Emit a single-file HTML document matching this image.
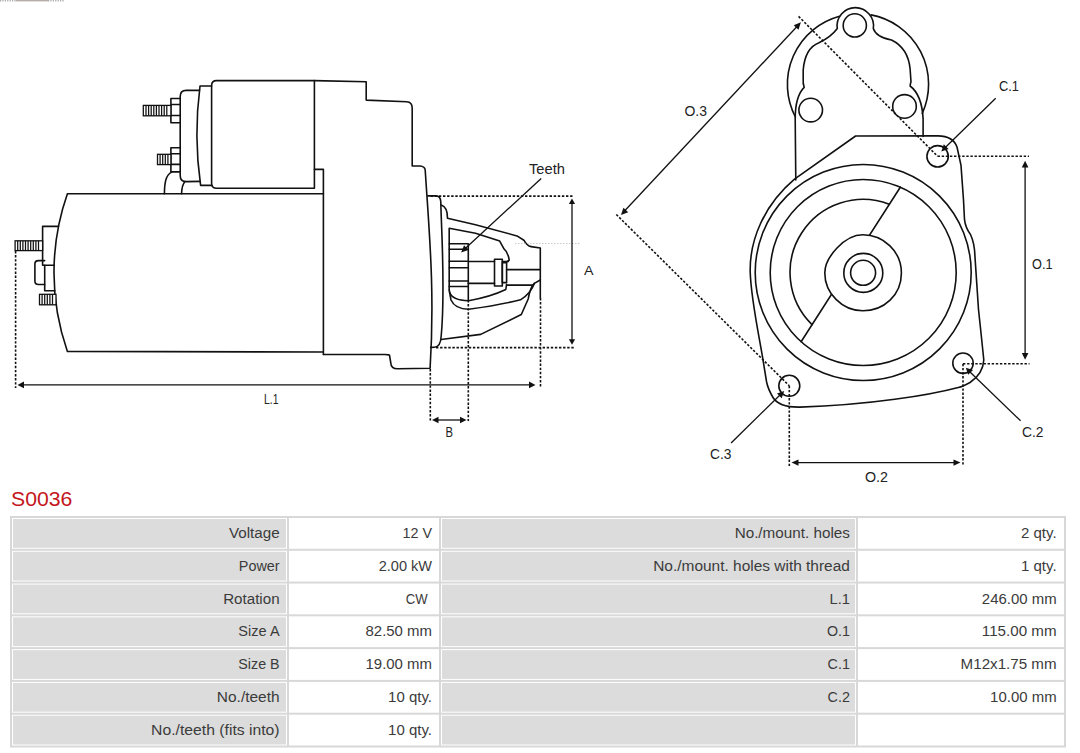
<!DOCTYPE html>
<html><head><meta charset="utf-8"><style>
html,body{margin:0;padding:0;background:#fff;width:1080px;height:753px;overflow:hidden}
svg{display:block}
</style></head><body>
<svg width="1080" height="753" viewBox="0 0 1080 753">
<rect width="1080" height="753" fill="#fff"/>
<path d="M0,0.7 L16,0.7 M48,0.7 L64,0.7" stroke="#aaa" stroke-width="1.4" stroke-dasharray="1.2,1.2"/><path d="M16,0.7 L48,0.7" stroke="#b5aea6" stroke-width="1.4"/>
<g fill="none" stroke="#111" stroke-width="1.6" stroke-linejoin="round" stroke-linecap="round">
  <!-- motor body -->
  <path d="M67.4,193.8 L323.4,193.8 L323.4,354.5 M323.4,352 L67.4,351.4 A238,238 0 0 1 67.4,193.8"/>
  <!-- solenoid main body -->
  <path d="M314.4,80.6 L216.6,80.6 Q211.6,80.6 211.6,85.6 L211.6,183.3 Q211.6,188.3 216.6,188.3 L314.4,188.3 Z"/>
  <!-- middle band -->
  <path d="M211.6,86 L200,86 Q193.5,136 200.6,185.4 L211.6,185.4"/>
  <!-- end cap -->
  <path d="M199.5,90.4 L186.2,90.4 Q180.2,90.4 180.2,96.4 L180.2,175.5 Q180.2,181.6 186.2,181.6 L200.3,181.4"/>
  <!-- upper nut -->
  <path d="M180.2,98.5 L170.9,98.5 L170.9,122.7 L180.2,122.7 M170.9,104.5 L180.2,104.5 M170.9,115.5 L180.2,115.5"/>
  <!-- lower nut -->
  <path d="M180.2,147.7 L170.9,147.7 L170.9,171.9 L180.2,171.9 M170.9,153.8 L180.2,153.8 M170.9,164.4 L180.2,164.4"/>
  <!-- arcs below solenoid -->
  <path d="M164.4,193.8 C164.5,182 166,175 171.8,171.9"/>
  <path d="M181.6,193.8 C181.7,188 182.5,184.5 185,181.6"/>
  <!-- step -->
  <path d="M314.4,169.4 L323.4,169.4 L323.4,193.8"/>
  <!-- housing -->
  <path d="M314.4,80.6 L366.2,81.7 L366.2,100.1 L406.7,101.7 Q412.2,102 412.2,108 L412.2,165.9 L420,166 Q424.8,166.5 425.2,170 C429,230 435,290 430.1,368.3 L398,368.8 Q391,369 390.8,363 L389.5,355.2 Q389,354.5 385,354.5 L323.4,354.5"/>
  <!-- flange -->
  <path d="M427.8,195.9 L435.8,195.9 Q440.6,196 440.8,202 C441.5,235 445.5,290 441.2,336 Q440.6,347 434.5,347.2 L430.7,347.4"/>
  <!-- nose outer top -->
  <path d="M441.3,205 C446,206.5 447.5,212 447.5,218.2 L475.5,224.7 L517,235.9 L523.9,240.2 Q527,246 531,246.6 L540.3,248 L540.3,298"/>
  <!-- nose outer bottom -->
  <path d="M540.3,280 L534.3,283.4 Q530,288 528.2,299 L521.3,314.5 L480.7,334.4 L441,339.5"/>
  <!-- inner lower contour 2 -->
  <path d="M534.3,283.4 Q531,293 520.5,299.8 Q500,305 468.6,309.3 Q455,309 451,300 L449.2,290"/>
  <!-- inner top contour -->
  <path d="M449.2,290 L449.2,228.3 L475.5,233.3 L499.7,241.1 L504,248.9 Q508,252 509.2,260.1 L506.6,262"/>
  <!-- inner lower contour 1 -->
  <path d="M449.5,292 Q452,300.5 468.6,300.7 Q490,297 505.8,289.5 L506.6,284.3"/>
  <!-- teeth -->
  <path d="M449.2,243.7 L468.3,243.7 M449.2,249.2 L468.3,249.2 M449.2,261.3 L468.3,261.3 M449.2,267.8 L468.3,267.8 M449.2,281 L468.3,281 M449.2,286.5 L468.3,286.5 M468.3,243.7 L468.3,300"/>
  <!-- shaft -->
  <path d="M468.3,261.5 L494.5,261.5 M502.3,261.5 L508.4,261.5 M468.3,283.4 L494.5,283.4 M506.6,285.1 L532.6,285.1 M506.6,269.6 L540.3,269.6"/>
  <rect x="494.5" y="259.2" width="7.8" height="26.8"/>
  <rect x="502.3" y="262.7" width="4.3" height="19.9"/>
  <!-- left terminal -->
  <path d="M58.5,226.4 L42.6,226.4 L42.6,265.2 L54.3,265.2"/>
  <path d="M44.7,265.2 L44.7,290.8 L54.8,290.8"/>
  <path d="M44.7,260.6 L38.5,260.6 Q34.9,260.6 34.9,264 L34.9,281 Q34.9,284.5 38.5,284.5 L44.7,284.5"/>
</g>
<!-- threads -->
<g fill="#fff" stroke="#111" stroke-width="1.3">
  <rect x="143.3" y="105.4" width="27.6" height="10.4"/>
  <rect x="157.5" y="154.3" width="13.4" height="10.3"/>
  <rect x="15.1" y="240.8" width="27.5" height="9.8"/>
  <rect x="39.5" y="294.3" width="16.5" height="10.5"/>
</g>
<g stroke="#111" stroke-width="1.25">
  <path d="M146,105.4V115.8M148.6,105.4V115.8M151.2,105.4V115.8M153.8,105.4V115.8M156.4,105.4V115.8M159,105.4V115.8M161.6,105.4V115.8M164.2,105.4V115.8M166.8,105.4V115.8"/>
  <path d="M160.1,154.3V164.6M162.7,154.3V164.6M165.3,154.3V164.6M167.9,154.3V164.6"/>
  <path d="M17.7,240.8V250.6M20.3,240.8V250.6M22.9,240.8V250.6M25.5,240.8V250.6M28.1,240.8V250.6M30.7,240.8V250.6M33.3,240.8V250.6M35.9,240.8V250.6M38.5,240.8V250.6"/>
  <path d="M42.1,294.3V304.8M44.7,294.3V304.8M47.3,294.3V304.8M49.9,294.3V304.8M52.5,294.3V304.8"/>
</g>
<!-- dimension lines -->
<g fill="none" stroke="#111" stroke-width="1.6" stroke-dasharray="2.4,1.7">
  <path d="M15.6,251 L15.6,388"/>
  <path d="M430.7,196.1 L573.5,196.1"/>
  <path d="M436,347.6 L575,347.6"/>
  <path d="M430.3,369 L430.3,421"/>
  <path d="M468.3,300 L468.3,421"/>
  <path d="M540.5,298 L540.5,388"/>
</g>
<path d="M515,243.5 L580,243.5" stroke="#bbb" stroke-width="0.8" stroke-dasharray="1.5,1.5"/>
<g fill="none" stroke="#111" stroke-width="1.3">
  <path d="M22,384.9 L530,384.9"/>
  <path d="M572,203 L572,340"/>
  <path d="M436,420 L462,420"/>
  <path d="M541.2,178.4 L465,248.8"/>
</g>
<g fill="#111" stroke="none">
  <path d="M17.5,384.9 L24,381.6 L24,388.2 Z"/>
  <path d="M535.5,384.9 L529,381.6 L529,388.2 Z"/>
  <path d="M572,198.5 L568.9,204 L575.1,204 Z"/>
  <path d="M572,344.8 L568.9,339.2 L575.1,339.2 Z"/>
  <path d="M432,420 L438.5,416.8 L438.5,423.2 Z"/>
  <path d="M466.5,420 L460,416.8 L460,423.2 Z"/>
  <path d="M461.1,252.4 L464.07,245.3 L468.4,250 Z"/>
</g>

<g fill="none" stroke="#111" stroke-width="1.6" stroke-linejoin="round" stroke-linecap="round">
  <!-- outer motor arc -->
  <path d="M795.4,117 A70.6,70.6 0 0 1 839.5,16.2 M871.1,14.9 A70.6,70.6 0 0 1 922.3,113.4"/>
  <!-- bracket plate outline -->
  <path d="M795.8,180 L795.2,118.9 Q795.2,96 804.2,87.3 Q802.8,84 803.2,79 L803.2,70 Q805,48 819,42.7 Q831,37 837.3,28.5 A18.2,18.2 0 1 1 873.3,28.5 Q876,37 891.5,40 Q908,48 910.1,68.8 L911,81.8 Q910,85 910.1,86 Q922,95 923.1,118.9 L923.1,136.5"/>
  <circle cx="854.8" cy="25.4" r="11.6"/>
  <circle cx="810.7" cy="110.1" r="11.8"/>
  <circle cx="904.5" cy="106.4" r="11.8"/>
  <!-- flange -->
  <path d="M794.5,179.2 L855.6,136 L938,135.9 Q953,136 957,147 L961,165.4 L963.5,200 L964.5,219.7 Q965.5,228 970.5,234.5 Q974.5,243 974.9,255.6 L978.5,309.5 L980.7,330 L983.8,360 Q983,374 970,382.5 Q963,386.5 958.3,387.5 C930,395 870,405 800,407.1 Q779,407.5 773,397.5 Q768,389 766.6,382 L763.4,362.3 C760,340 751,300 750.2,272 C749.5,240 764,205 794.5,179.2"/>
  <circle cx="863.2" cy="272.5" r="108"/>
  <circle cx="863.2" cy="272.5" r="93"/>
  <path d="M889.3,204.3 A73,73 0 0 0 812,324.6"/>
  <path d="M900.3,187.2 L801.1,341.7"/>
  <path fill="#fff" d="M862.9,234.8 C883,234.8 901.4,251 901.4,272.9 C901.4,295 884,310.8 862.9,310.8 C842,310.8 824.8,293 824.8,272.9 C824.8,258 844,234.8 862.9,234.8 Z"/>
  <circle cx="863.3" cy="272.9" r="19.5"/>
  <circle cx="863.1" cy="272.8" r="12.5"/>
  <circle cx="937.6" cy="156.3" r="10.7"/>
  <circle cx="963" cy="363.2" r="10.2"/>
  <circle cx="789.3" cy="385.8" r="10.5"/>
</g>
<g fill="none" stroke="#111" stroke-width="1.6" stroke-dasharray="2.4,1.7">
  <path d="M798.6,16.4 L937.6,156.3"/>
  <path d="M616.3,214.5 L789.3,385.8"/>
  <path d="M937.6,156.3 L1029,156.3"/>
  <path d="M963,363.8 L1029.5,363.8"/>
  <path d="M789.3,385.8 L789.3,466"/>
  <path d="M963,363.8 L963,466"/>
</g>
<g fill="none" stroke="#111" stroke-width="1.3">
  <path d="M625,210.5 L797,26.5"/>
  <path d="M1025.1,165 L1025.1,355"/>
  <path d="M796,462.6 L956,462.6"/>
  <path d="M995.7,98.3 L945,147.7"/>
  <path d="M1020.6,420.8 L969.5,371.5"/>
  <path d="M731.1,443 L780.5,394.5"/>
</g>
<g fill="#111" stroke="none">
  <path d="M621,215 L623.4,207.65 L628.2,212.15 Z"/>
  <path d="M800.9,22.3 L798.5,29.65 L793.7,25.15 Z"/>
  <path d="M1025.1,160.8 L1021.8,167.5 L1028.4,167.5 Z"/>
  <path d="M1025.1,359.8 L1021.8,353 L1028.4,353 Z"/>
  <path d="M791.5,462.6 L798.5,459.4 L798.5,465.8 Z"/>
  <path d="M960.5,462.6 L953.5,459.4 L953.5,465.8 Z"/>
  <path d="M941.3,151.5 L943.8,144.3 L948.6,149 Z"/>
  <path d="M965.8,367.7 L973,370 L968.2,374.8 Z"/>
  <path d="M784.2,391 L781.7,398.3 L777,393.6 Z"/>
</g>

<g font-family="Liberation Sans, sans-serif" fill="#222"><text x="529.0" y="174.0" font-size="14.39" textLength="36.0" lengthAdjust="spacingAndGlyphs">Teeth</text><text x="584.0" y="275.0" font-size="13.69" textLength="9.5" lengthAdjust="spacingAndGlyphs">A</text><text x="264.0" y="403.5" font-size="14.11" textLength="14.5" lengthAdjust="spacingAndGlyphs">L.1</text><text x="445.5" y="437.0" font-size="13.83" textLength="7.5" lengthAdjust="spacingAndGlyphs">B</text><text x="684.5" y="116.0" font-size="14.8" textLength="22.5" lengthAdjust="spacingAndGlyphs">O.3</text><text x="999.0" y="91.0" font-size="14.94" textLength="20.0" lengthAdjust="spacingAndGlyphs">C.1</text><text x="1032.0" y="269.0" font-size="14.8" textLength="20.5" lengthAdjust="spacingAndGlyphs">O.1</text><text x="1022.0" y="436.5" font-size="14.94" textLength="21.5" lengthAdjust="spacingAndGlyphs">C.2</text><text x="710.0" y="459.0" font-size="14.8" textLength="21.5" lengthAdjust="spacingAndGlyphs">C.3</text><text x="865.0" y="481.5" font-size="15.08" textLength="23.0" lengthAdjust="spacingAndGlyphs">O.2</text></g>
<text x="11" y="505.8" font-family="Liberation Sans, sans-serif" font-size="20" fill="#c4161c" textLength="61.31" lengthAdjust="spacingAndGlyphs">S0036</text>
<rect x="10" y="516" width="1056" height="231.5" fill="#d8d8d8"/><rect x="12" y="518.00" width="275" height="30.78" fill="#fff"/><rect x="13" y="519.00" width="273" height="28.78" fill="#dcdcdc"/><rect x="289" y="518.00" width="150" height="30.78" fill="#fff"/><rect x="441" y="518.00" width="415" height="30.78" fill="#fff"/><rect x="442" y="519.00" width="413" height="28.78" fill="#dcdcdc"/><rect x="858" y="518.00" width="206" height="30.78" fill="#fff"/><rect x="12" y="550.78" width="275" height="30.78" fill="#fff"/><rect x="13" y="551.78" width="273" height="28.78" fill="#dcdcdc"/><rect x="289" y="550.78" width="150" height="30.78" fill="#fff"/><rect x="441" y="550.78" width="415" height="30.78" fill="#fff"/><rect x="442" y="551.78" width="413" height="28.78" fill="#dcdcdc"/><rect x="858" y="550.78" width="206" height="30.78" fill="#fff"/><rect x="12" y="583.56" width="275" height="30.78" fill="#fff"/><rect x="13" y="584.56" width="273" height="28.78" fill="#dcdcdc"/><rect x="289" y="583.56" width="150" height="30.78" fill="#fff"/><rect x="441" y="583.56" width="415" height="30.78" fill="#fff"/><rect x="442" y="584.56" width="413" height="28.78" fill="#dcdcdc"/><rect x="858" y="583.56" width="206" height="30.78" fill="#fff"/><rect x="12" y="616.34" width="275" height="30.78" fill="#fff"/><rect x="13" y="617.34" width="273" height="28.78" fill="#dcdcdc"/><rect x="289" y="616.34" width="150" height="30.78" fill="#fff"/><rect x="441" y="616.34" width="415" height="30.78" fill="#fff"/><rect x="442" y="617.34" width="413" height="28.78" fill="#dcdcdc"/><rect x="858" y="616.34" width="206" height="30.78" fill="#fff"/><rect x="12" y="649.12" width="275" height="30.78" fill="#fff"/><rect x="13" y="650.12" width="273" height="28.78" fill="#dcdcdc"/><rect x="289" y="649.12" width="150" height="30.78" fill="#fff"/><rect x="441" y="649.12" width="415" height="30.78" fill="#fff"/><rect x="442" y="650.12" width="413" height="28.78" fill="#dcdcdc"/><rect x="858" y="649.12" width="206" height="30.78" fill="#fff"/><rect x="12" y="681.90" width="275" height="30.78" fill="#fff"/><rect x="13" y="682.90" width="273" height="28.78" fill="#dcdcdc"/><rect x="289" y="681.90" width="150" height="30.78" fill="#fff"/><rect x="441" y="681.90" width="415" height="30.78" fill="#fff"/><rect x="442" y="682.90" width="413" height="28.78" fill="#dcdcdc"/><rect x="858" y="681.90" width="206" height="30.78" fill="#fff"/><rect x="12" y="714.68" width="275" height="30.82" fill="#fff"/><rect x="13" y="715.68" width="273" height="28.82" fill="#dcdcdc"/><rect x="289" y="714.68" width="150" height="30.82" fill="#fff"/><rect x="441" y="714.68" width="415" height="30.82" fill="#fff"/><rect x="442" y="715.68" width="413" height="28.82" fill="#dcdcdc"/><rect x="858" y="714.68" width="206" height="30.82" fill="#fff"/>
<g font-family="Liberation Sans, sans-serif" font-size="14" fill="#3b3b3b">
<text x="279.6" y="538.00" text-anchor="end" textLength="50.64" lengthAdjust="spacingAndGlyphs">Voltage</text><text x="432.0" y="538.00" text-anchor="end" textLength="29.49" lengthAdjust="spacingAndGlyphs">12 V</text><text x="849.9" y="538.00" text-anchor="end" textLength="115.23" lengthAdjust="spacingAndGlyphs">No./mount. holes</text><text x="1056.6" y="538.00" text-anchor="end" textLength="35.63" lengthAdjust="spacingAndGlyphs">2 qty.</text><text x="279.6" y="570.78" text-anchor="end" textLength="40.81" lengthAdjust="spacingAndGlyphs">Power</text><text x="432.0" y="570.78" text-anchor="end" textLength="53.32" lengthAdjust="spacingAndGlyphs">2.00 kW</text><text x="849.9" y="570.78" text-anchor="end" textLength="196.69" lengthAdjust="spacingAndGlyphs">No./mount. holes with thread</text><text x="1056.6" y="570.78" text-anchor="end" textLength="35.63" lengthAdjust="spacingAndGlyphs">1 qty.</text><text x="279.6" y="603.56" text-anchor="end" textLength="56.44" lengthAdjust="spacingAndGlyphs">Rotation</text><text x="427.7" y="603.56" text-anchor="end" textLength="21.88" lengthAdjust="spacingAndGlyphs">CW</text><text x="849.9" y="603.56" text-anchor="end" textLength="20.41" lengthAdjust="spacingAndGlyphs">L.1</text><text x="1056.6" y="603.56" text-anchor="end" textLength="74.76" lengthAdjust="spacingAndGlyphs">246.00 mm</text><text x="279.6" y="636.34" text-anchor="end" textLength="41.23" lengthAdjust="spacingAndGlyphs">Size A</text><text x="432.0" y="636.34" text-anchor="end" textLength="66.50" lengthAdjust="spacingAndGlyphs">82.50 mm</text><text x="849.9" y="636.34" text-anchor="end" textLength="22.96" lengthAdjust="spacingAndGlyphs">O.1</text><text x="1056.6" y="636.34" text-anchor="end" textLength="74.76" lengthAdjust="spacingAndGlyphs">115.00 mm</text><text x="279.6" y="669.12" text-anchor="end" textLength="41.27" lengthAdjust="spacingAndGlyphs">Size B</text><text x="432.0" y="669.12" text-anchor="end" textLength="66.50" lengthAdjust="spacingAndGlyphs">19.00 mm</text><text x="849.9" y="669.12" text-anchor="end" textLength="22.31" lengthAdjust="spacingAndGlyphs">C.1</text><text x="1056.6" y="669.12" text-anchor="end" textLength="96.00" lengthAdjust="spacingAndGlyphs">M12x1.75 mm</text><text x="279.6" y="701.90" text-anchor="end" textLength="62.71" lengthAdjust="spacingAndGlyphs">No./teeth</text><text x="432.0" y="701.90" text-anchor="end" textLength="43.88" lengthAdjust="spacingAndGlyphs">10 qty.</text><text x="849.9" y="701.90" text-anchor="end" textLength="22.31" lengthAdjust="spacingAndGlyphs">C.2</text><text x="1056.6" y="701.90" text-anchor="end" textLength="66.50" lengthAdjust="spacingAndGlyphs">10.00 mm</text><text x="279.6" y="734.68" text-anchor="end" textLength="128.49" lengthAdjust="spacingAndGlyphs">No./teeth (fits into)</text><text x="432.0" y="734.68" text-anchor="end" textLength="43.88" lengthAdjust="spacingAndGlyphs">10 qty.</text>
</g>
</svg>
</body></html>
